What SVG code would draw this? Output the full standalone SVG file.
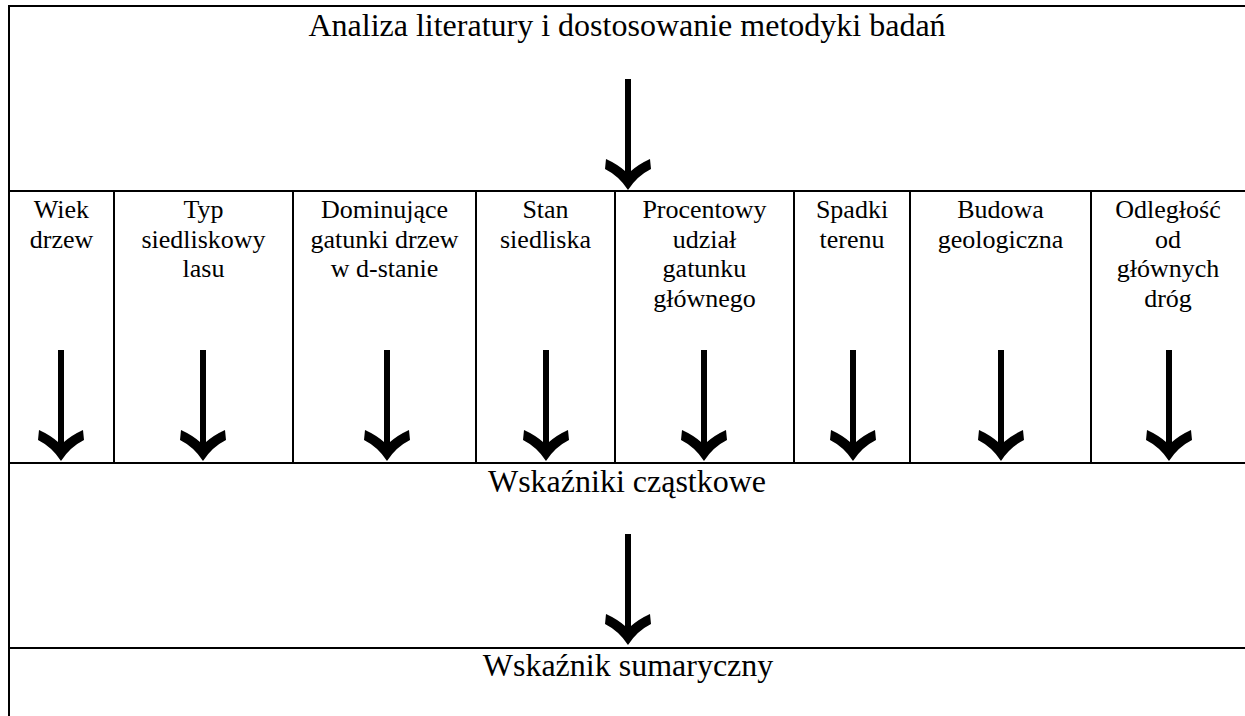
<svg xmlns="http://www.w3.org/2000/svg" width="1245" height="716" viewBox="0 0 1245 716">
<style>
.ln{stroke:#000;stroke-width:2;fill:none}
.t{font-family:"Liberation Serif","Times New Roman",serif;fill:#000;text-anchor:middle}
.big{font-size:32px}
.sm{font-size:26px}
.arr{fill:#000}
</style>
<defs>
<path id="arrow" class="arr" d="M0,0 Q-9,-14 -23,-21 L-22,-31 Q-11,-26 -3,-19 L-3,-111 L3,-111 L3,-19 Q11,-26 22,-31 L23,-21 Q9,-14 0,0 Z"/>
</defs>
<rect width="1245" height="716" fill="#fff"/>
<g id="frame">
<line class="ln" x1="8" y1="6" x2="1245" y2="6"/>
<line class="ln" x1="9" y1="5" x2="9" y2="716"/>
<line class="ln" x1="9" y1="191" x2="1245" y2="191"/>
<line class="ln" x1="9" y1="463" x2="1245" y2="463"/>
<line class="ln" x1="9" y1="648" x2="1245" y2="648"/>
<line class="ln" x1="114" y1="191" x2="114" y2="463"/>
<line class="ln" x1="293" y1="191" x2="293" y2="463"/>
<line class="ln" x1="476" y1="191" x2="476" y2="463"/>
<line class="ln" x1="615" y1="191" x2="615" y2="463"/>
<line class="ln" x1="794" y1="191" x2="794" y2="463"/>
<line class="ln" x1="910" y1="191" x2="910" y2="463"/>
<line class="ln" x1="1091" y1="191" x2="1091" y2="463"/>
</g>
<g id="n-analiza"><text class="t big" x="627" y="36">Analiza literatury i dostosowanie metodyki badań</text></g>
<g id="n-wiek"><text class="t sm" x="61.5" y="218">Wiek<tspan x="61.5" dy="29.5">drzew</tspan></text></g>
<g id="n-typ"><text class="t sm" x="203.5" y="218">Typ<tspan x="203.5" dy="29.5">siedliskowy</tspan><tspan x="203.5" dy="29.5">lasu</tspan></text></g>
<g id="n-dominujace"><text class="t sm" x="384.5" y="218">Dominujące<tspan x="384.5" dy="29.5">gatunki drzew</tspan><tspan x="384.5" dy="29.5">w d-stanie</tspan></text></g>
<g id="n-stan"><text class="t sm" x="545.5" y="218">Stan<tspan x="545.5" dy="29.5">siedliska</tspan></text></g>
<g id="n-procentowy"><text class="t sm" x="704.5" y="218">Procentowy<tspan x="704.5" dy="29.5">udział</tspan><tspan x="704.5" dy="29.5">gatunku</tspan><tspan x="704.5" dy="29.5">głównego</tspan></text></g>
<g id="n-spadki"><text class="t sm" x="852" y="218">Spadki<tspan x="852" dy="29.5">terenu</tspan></text></g>
<g id="n-budowa"><text class="t sm" x="1000.5" y="218">Budowa<tspan x="1000.5" dy="29.5">geologiczna</tspan></text></g>
<g id="n-odleglosc"><text class="t sm" x="1168" y="218">Odległość<tspan x="1168" dy="29.5">od</tspan><tspan x="1168" dy="29.5">głównych</tspan><tspan x="1168" dy="29.5">dróg</tspan></text></g>
<g id="n-czastkowe"><text class="t big" x="627" y="492">Wskaźniki cząstkowe</text></g>
<g id="n-sumaryczny"><text class="t big" x="628" y="676">Wskaźnik sumaryczny</text></g>
<g id="connectors">
<use href="#arrow" x="628" y="190"/>
<use href="#arrow" x="61" y="461"/>
<use href="#arrow" x="203" y="461"/>
<use href="#arrow" x="387" y="461"/>
<use href="#arrow" x="546" y="461"/>
<use href="#arrow" x="704" y="461"/>
<use href="#arrow" x="853" y="461"/>
<use href="#arrow" x="1001" y="461"/>
<use href="#arrow" x="1169" y="461"/>
<use href="#arrow" x="628" y="645"/>
</g>
</svg>
